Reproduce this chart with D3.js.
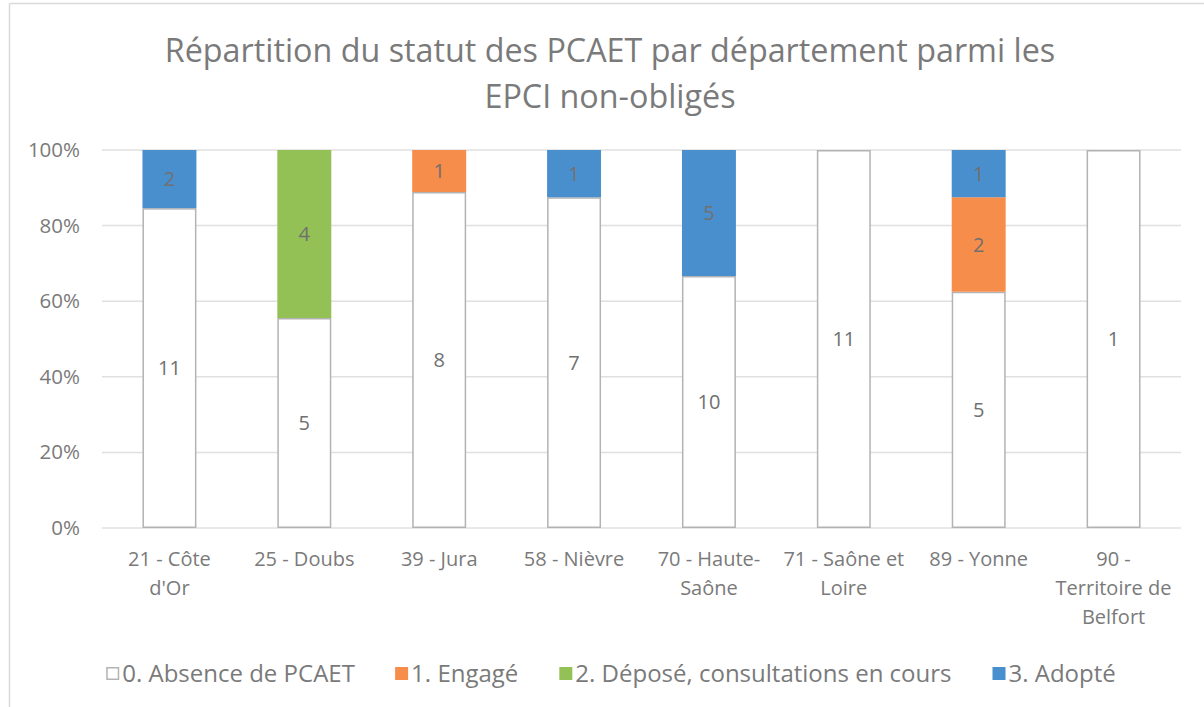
<!DOCTYPE html>
<html>
<head>
<meta charset="utf-8">
<script src="https://cdn.jsdelivr.net/npm/d3@7"></script>
<style>
  body { margin: 0; background: #fff; }
  text { font-family: "Open Sans", Lato, sans-serif; }
</style>
</head>
<body>
<script>
// categories (tick labels, already broken into lines like the original)
var categories = [
    ["21 - Côte", "d'Or"],
    ["25 - Doubs"],
    ["39 - Jura"],
    ["58 - Nièvre"],
    ["70 - Haute-", "Saône"],
    ["71 - Saône et", "Loire"],
    ["89 - Yonne"],
    ["90 -", "Territoire de", "Belfort"]
];
var seriesNames = ["0. Absence de PCAET", "1. Engagé", "2. Déposé, consultations en cours", "3. Adopté"];
var absence  = [11, 5, 8, 7, 10, 11, 5, 1];
var engage   = [0, 0, 1, 0, 0, 0, 2, 0];
var depose   = [0, 4, 0, 0, 0, 0, 0, 0];
var adopte   = [2, 0, 0, 1, 5, 0, 1, 0];
var yTicks = [0, 0.2, 0.4, 0.6, 0.8, 1];

var W = 1204, H = 707;
var plot = {left: 102, right: 1181, top: 150, bottom: 528};
var textColor = "#7a7a7a";
var colors = ["#ffffff", "#f78d4b", "#94c155", "#4a8fcd"];

var svg = d3.select("body").append("svg")
    .attr("width", W)
    .attr("height", H);

// chart frame (only top and left edges visible)
svg.append("line").attr("x1", 9.5).attr("y1", 3.5).attr("x2", W).attr("y2", 3.5)
    .attr("stroke", "#d9d9d9").attr("stroke-width", 1.5);
svg.append("line").attr("x1", 9.5).attr("y1", 3.5).attr("x2", 9.5).attr("y2", H)
    .attr("stroke", "#d9d9d9").attr("stroke-width", 1.5);

// title
var title = svg.append("text")
    .attr("text-anchor", "middle")
    .attr("fill", textColor)
    .attr("font-size", 32.3);
title.append("tspan").attr("x", 610).attr("y", 62).text("Répartition du statut des PCAET par département parmi les");
title.append("tspan").attr("x", 610).attr("y", 108).text("EPCI non-obligés");

var x = d3.scaleBand()
    .domain(d3.range(categories.length))
    .range([plot.left, plot.right])
    .paddingInner(0.6)
    .paddingOuter(0.3);

var y = d3.scaleLinear()
    .domain([0, 1])
    .range([plot.bottom, plot.top]);

// gridlines
svg.append("g").selectAll("line")
    .data(yTicks)
    .enter().append("line")
    .attr("x1", plot.left).attr("x2", plot.right)
    .attr("y1", function(d) { return y(d); })
    .attr("y2", function(d) { return y(d); })
    .attr("stroke", "#e0e0e0")
    .attr("stroke-width", 1.5);

// y axis labels
svg.append("g").selectAll("text")
    .data(yTicks)
    .enter().append("text")
    .attr("x", 80)
    .attr("y", function(d) { return y(d) + 7; })
    .attr("text-anchor", "end")
    .attr("fill", textColor)
    .attr("font-size", 20.5)
    .text(function(d) { return d3.format(".0%")(d); });

// stack the data as percentages
var rows = categories.map(function(c, i) {
    var total = absence[i] + engage[i] + depose[i] + adopte[i];
    return {i: i, total: total, s0: absence[i], s1: engage[i], s2: depose[i], s3: adopte[i]};
});
var keys = ["s0", "s1", "s2", "s3"];
var stack = d3.stack().keys(keys)
    .value(function(d, k) { return d[k] / d.total; });
var layers = stack(rows);

var barW = x.bandwidth();

layers.forEach(function(layer, li) {
    var g = svg.append("g");
    layer.forEach(function(seg) {
        var row = seg.data;
        var v = row[keys[li]];
        if (!v) return;
        var x0 = x(row.i);
        var y0 = y(seg[1]), y1 = y(seg[0]);
        g.append("rect")
            .attr("x", li === 0 ? x0 + 0.75 : x0)
            .attr("y", li === 0 ? y0 + 0.75 : y0)
            .attr("width", li === 0 ? barW - 1.5 : barW)
            .attr("height", li === 0 ? y1 - y0 - 1.5 : y1 - y0)
            .attr("fill", colors[li])
            .attr("stroke", li === 0 ? "#b3b3b3" : "none")
            .attr("stroke-width", 1.5);
        g.append("text")
            .attr("x", x0 + barW / 2)
            .attr("y", (y0 + y1) / 2 + 7)
            .attr("text-anchor", "middle")
            .attr("fill", "#707070")
            .attr("font-size", 20)
            .text(v);
    });
});

// category labels
var catG = svg.append("g").selectAll("text")
    .data(categories)
    .enter().append("text")
    .attr("text-anchor", "middle")
    .attr("fill", textColor)
    .attr("font-size", 20);
catG.each(function(lines, i) {
    var t = d3.select(this);
    lines.forEach(function(line, j) {
        t.append("tspan")
            .attr("x", x(i) + x.bandwidth() / 2)
            .attr("y", 566 + j * 29)
            .text(line);
    });
});

// legend: lay items out one after the other, then centre the row
var legendGap = 41;
var legend = svg.append("g").attr("transform", "translate(0,667)");
var items = legend.selectAll("g")
    .data(seriesNames)
    .enter().append("g");
items.append("rect")
    .attr("x", function(d, i) { return i === 0 ? 0.75 : 0; })
    .attr("y", function(d, i) { return i === 0 ? 0.75 : 0; })
    .attr("width", function(d, i) { return i === 0 ? 11.5 : 13; })
    .attr("height", function(d, i) { return i === 0 ? 11.5 : 13; })
    .attr("fill", function(d, i) { return colors[i]; })
    .attr("stroke", function(d, i) { return i === 0 ? "#b3b3b3" : "none"; })
    .attr("stroke-width", 1.5);
items.append("text")
    .attr("x", 16)
    .attr("y", 14.5)
    .attr("fill", textColor)
    .attr("font-size", 24)
    .text(function(d) { return d; });
var cursor = 0;
items.each(function() {
    var w = this.getBBox().width;
    d3.select(this).attr("transform", "translate(" + cursor + ",0)");
    cursor += w + legendGap;
});
var rowW = cursor - legendGap;
legend.attr("transform", "translate(" + (611 - rowW / 2) + ",667)");
</script>
</body>
</html>
